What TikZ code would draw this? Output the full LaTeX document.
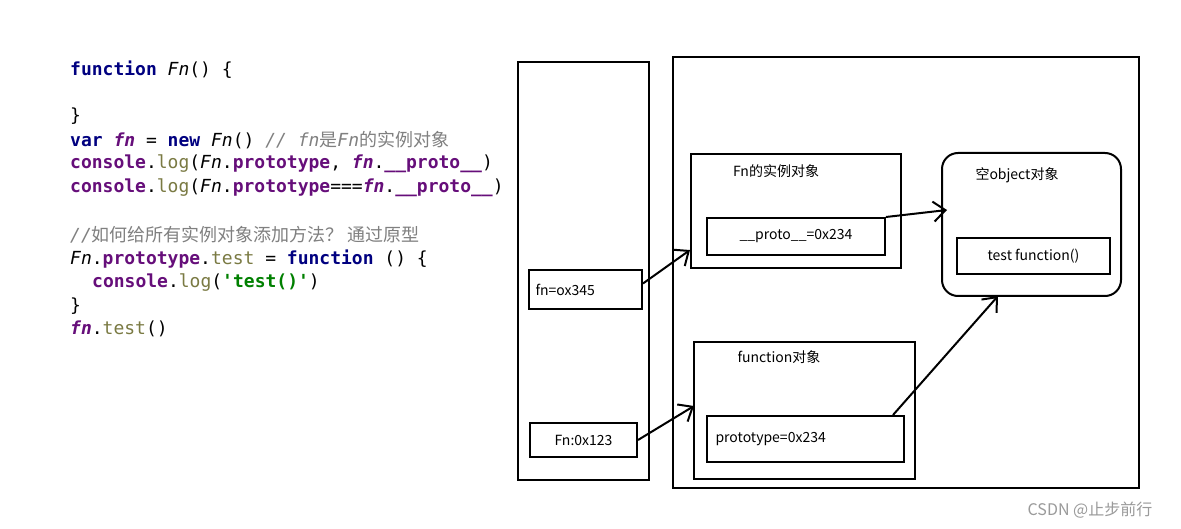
\documentclass[tikz,border=0pt]{standalone}
\usepackage{fontspec}
\setmainfont{Liberation Sans}
\newfontfamily\cjk{Noto Sans CJK SC}
\newfontfamily\mono{DejaVu Sans Mono}
\usetikzlibrary{arrows.meta}
\definecolor{kw}{HTML}{000080}
\definecolor{pu}{HTML}{660E7A}
\definecolor{ol}{HTML}{7A7A43}
\definecolor{cm}{HTML}{808080}
\definecolor{st}{HTML}{008000}
\newcommand{\jK}[1]{{\bfseries\color{kw}#1}}
\newcommand{\jP}[1]{{\bfseries\color{pu}#1}}
\newcommand{\jL}[1]{{\color{ol}#1}}
\newcommand{\jI}[1]{{\itshape #1}}
\newcommand{\jV}[1]{{\itshape\bfseries\color{pu}#1}}
\newcommand{\jC}[1]{{\itshape\color{cm}#1}}
\newcommand{\jJ}[1]{{\cjk #1}}
\begin{document}
\begin{tikzpicture}[x=1pt,y=-1pt,
  code/.style={anchor=west,inner sep=0,font=\mono\fontsize{18}{20}\selectfont},
  box/.style={draw,line width=2pt},
  lbl/.style={font=\cjk\fontsize{14}{16}\selectfont},
  arr/.style={line width=2pt,-{Straight Barb[length=12pt,width=20pt]}}]
\useasboundingbox[fill=white] (0,0) rectangle (1181,529);
\node[code] (c1) at (70,70) {\jK{function} \jI{Fn}() \{};
\node[code] (c2) at (70,116) {\}};
\node[code] (c3) at (70,140) {\jK{var} \jV{fn} = \jK{new} \jI{Fn}() \jC{// fn\jJ{是}Fn\jJ{的实例对象}}};
\node[code] (c4) at (70,164) {\jP{console}.\jL{log}(\jI{Fn}.\jP{prototype}, \jV{fn}.\jP{\_\_proto\_\_})};
\node[code] (c5) at (70,188) {\jP{console}.\jL{log}(\jI{Fn}.\jP{prototype}===\jV{fn}.\jP{\_\_proto\_\_})};
\node[code] (c6) at (70,235) {\jC{//\jJ{如何给所有实例对象添加方法？ 通过原型}}};
\node[code] (c7) at (70,259) {\jI{Fn}.\jP{prototype}.\jL{test} = \jK{function} () \{};
\node[code] (c8) at (92,283) {\jP{console}.\jL{log}({\bfseries\color{st}'test()'})};
\node[code] (c9) at (70,306) {\}};
\node[code] (c10) at (70,329) {\jV{fn}.\jL{test}()};

\draw[box] (518,62) rectangle (649,480);
\draw[box] (673,57) rectangle (1139,488);
\draw[box] (691,154) rectangle (901,268);
\node[lbl] (l1) at (776,171) {Fn的实例对象};
\node[box,lbl,minimum width=178pt,minimum height=37pt] (pr) at (796,236.5) {\_\_proto\_\_=0x234};
\draw[box,rounded corners=16pt] (942,153) rectangle (1121,296);
\node[lbl] (l2) at (1017,175) {空object对象};
\node[box,lbl,minimum width=153pt,minimum height=36pt] (tf) at (1033.5,256) {test function()};
\draw[box] (694,342) rectangle (915,479);
\node[lbl] (l3) at (779,357) {function对象};
\node[box,lbl,anchor=west,minimum width=197pt,minimum height=46pt,text width=180pt] (pt) at (706,439) {prototype=0x234};
\node[box,lbl,anchor=west,minimum width=113pt,minimum height=39pt,text width=100pt] (fn) at (528,289.5) {fn=ox345};
\node[box,lbl,minimum width=107pt,minimum height=34pt] (Fn) at (583.5,440) {Fn:0x123};
\coordinate (a1) at (690,250);
\coordinate (a2) at (694,406);
\coordinate (a3) at (947,210);
\coordinate (a4) at (998,296);
\draw[arr] ([yshift=6pt]fn.east) -- (a1);
\draw[arr] (Fn.east) -- (a2);
\draw[arr] (pr.north east) -- (a3);
\draw[arr] ([xshift=-12pt]pt.north east) -- (a4);
\node[font=\cjk\fontsize{16}{18}\selectfont,text=cm!80] (wm) at (1090,510) {CSDN @止步前行};
\end{tikzpicture}
\end{document}
